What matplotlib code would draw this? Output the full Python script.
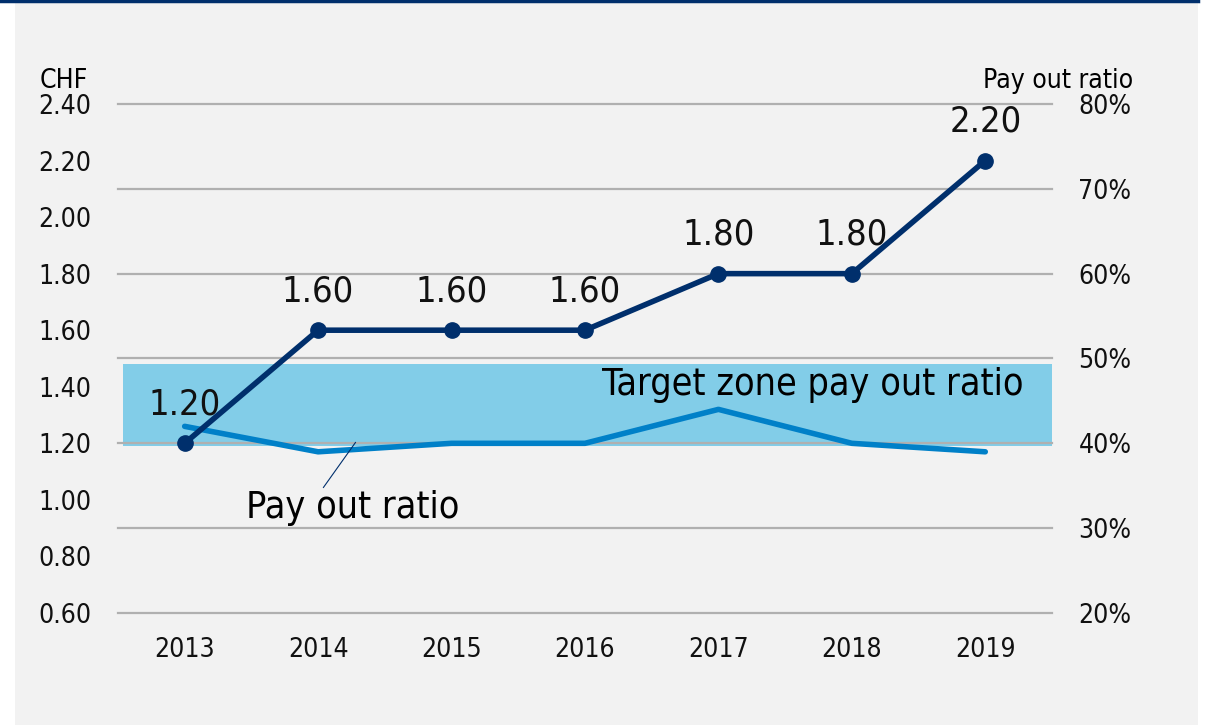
import matplotlib
matplotlib.use("Agg")
import matplotlib.pyplot as plt
from matplotlib.patches import Rectangle
from matplotlib.lines import Line2D

years = ["2013", "2014", "2015", "2016", "2017", "2018", "2019"]
dividend = [1.20, 1.60, 1.60, 1.60, 1.80, 1.80, 2.20]
payout = [42, 39, 40, 40, 44, 40, 39]
target_low, target_high = 39.7, 49.3

plt.rcParams["font.family"] = ["DejaVu Sans"]
plt.rcParams["font.stretch"] = "condensed"

fig = plt.figure(figsize=(12.11, 7.25), dpi=100, facecolor="white")
fig.patches.append(Rectangle((15 / 1211, 0), 1183 / 1211, 1, transform=fig.transFigure,
                             facecolor="#f2f2f2", edgecolor="none", zorder=-5))
fig.lines.append(Line2D([0, 1198 / 1211], [0.999, 0.999], transform=fig.transFigure,
                        color="#002f6c", linewidth=2.5, zorder=-4))

ax = fig.add_axes([0.0974, 0.1545, 0.7713, 0.7021])
ax2 = ax.twinx()
x = list(range(len(years)))

# target zone and payout ratio on right axis
ax2.patch.set_visible(False)
ax2.axhspan(target_low, target_high, xmin=0.005, xmax=1.004, color="#82cde8", zorder=1, lw=0)
for t in range(20, 90, 10):
    ax2.axhline(t, color="#b0b0b0", linewidth=1.6, zorder=1.5, clip_on=False)
ax2.plot(x, payout, color="#0080c8", linewidth=4, zorder=3, solid_capstyle="round")
ax2.set_ylim(20, 80)
ax2.set_yticks(range(20, 90, 10))
ax2.set_yticklabels([f"{t}%" for t in range(20, 90, 10)])

# dividend on left axis
ax.set_zorder(ax2.get_zorder() + 1)
ax.patch.set_visible(False)
ax.plot(x, dividend, color="#002f6c", linewidth=4, marker="o", markersize=11, zorder=4)
for xi, d in zip(x, dividend):
    ax.annotate(f"{d:.2f}", (xi, d), xytext=(0, 28), textcoords="offset points",
                ha="center", va="center", fontsize=26, color="#111111")
ax.set_ylim(0.6, 2.4)
ax.set_yticks([0.6 + 0.2 * i for i in range(10)])
ax.set_yticklabels([f"{0.6 + 0.2 * i:.2f}" for i in range(10)])
ax.set_xlim(-0.5, 6.5)
ax.set_xticks(x)
ax.set_xticklabels(years)

for a in (ax, ax2):
    for s in a.spines.values():
        s.set_visible(False)
    a.tick_params(length=0, labelsize=19, colors="#111111")
ax.tick_params(axis="y", pad=19)
ax.tick_params(axis="x", pad=17)
ax2.tick_params(axis="y", pad=19)

ax.text(-0.0835, 1.045, "CHF", transform=ax.transAxes, fontsize=19, ha="left", va="center")
ax2.text(1.0867, 1.045, "Pay out ratio", transform=ax2.transAxes, fontsize=19, ha="right", va="center")

ax2.text(4.71, 46.9, "Target zone pay out ratio", fontsize=27, ha="center", va="center")
ax2.plot([1.04, 1.28], [34.8, 40.1], color="#002f6c", linewidth=0.8, zorder=5)
ax2.text(1.26, 32.4, "Pay out ratio", fontsize=27, ha="center", va="center")

fig.savefig("out.png", dpi=100, facecolor="white")
